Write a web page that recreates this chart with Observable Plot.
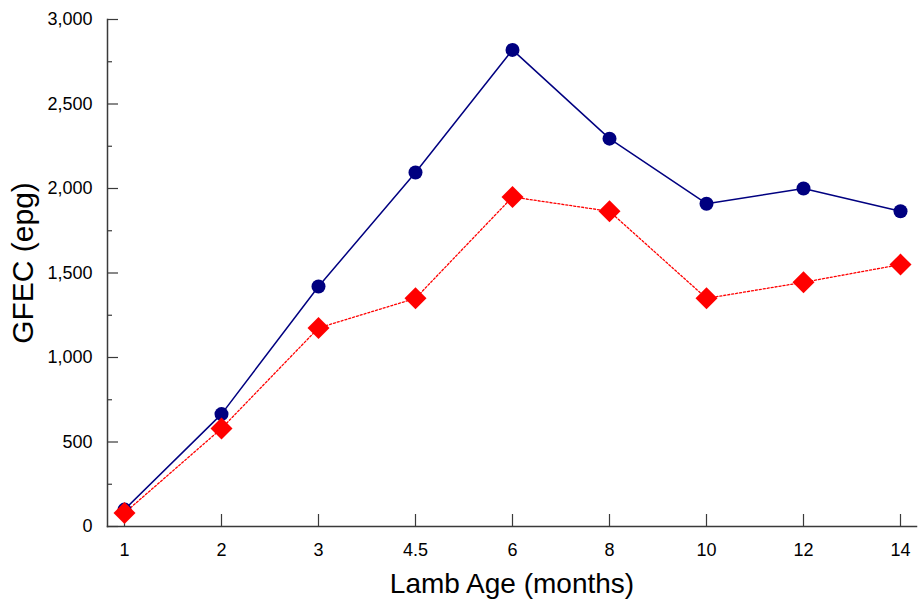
<!DOCTYPE html>
<html>
<head>
<meta charset="utf-8">
<script src="https://cdn.jsdelivr.net/npm/d3@7"></script>
<script src="https://cdn.jsdelivr.net/npm/@observablehq/plot@0.6"></script>
<style>
  html, body { margin: 0; padding: 0; background: #fff; }
  svg { font-family: "Liberation Sans", Arial, sans-serif; }
</style>
</head>
<body>
<div id="chart"></div>
<script>
const ages = ["1", "2", "3", "4.5", "6", "8", "10", "12", "14"];
const seriesA = [100, 665, 1420, 2095, 2820, 2295, 1910, 2000, 1865];
const seriesB = [80, 580, 1175, 1350, 1950, 1865, 1350, 1445, 1550];
const yTicks = [0, 500, 1000, 1500, 2000, 2500, 3000];
const yMinorTicks = [250, 750, 1250, 1750, 2250, 2750];

const dataA = ages.map((a, i) => ({age: a, v: seriesA[i]}));
const dataB = ages.map((a, i) => ({age: a, v: seriesB[i]}));

const axisColor = "#3a3a3a";

const chart = Plot.plot({
  width: 919,
  height: 601,
  marginLeft: 107,
  marginRight: 3,
  marginTop: 19,
  marginBottom: 75,
  style: {fontFamily: "Liberation Sans, Arial, sans-serif", fontSize: "18px", color: "#000", background: "#fff"},
  x: {type: "point", domain: ages, padding: 0.165},
  y: {domain: [0, 3000]},
  marks: [
    Plot.frame({anchor: "left", stroke: axisColor, strokeWidth: 1.5}),
    Plot.frame({anchor: "bottom", stroke: axisColor, strokeWidth: 1.5}),
    Plot.axisY({ticks: yTicks, tickSize: -11, text: null, label: null, stroke: axisColor, strokeWidth: 1.2}),
    Plot.axisY({ticks: yMinorTicks, tickSize: -5, text: null, label: null, stroke: axisColor, strokeWidth: 1.2}),
    Plot.axisY({ticks: yTicks, tickSize: 0, tickPadding: 15, tickFormat: d3.format(","), label: null, fontSize: 18, fill: "#000"}),
    Plot.axisX({tickSize: -12, text: null, label: null, stroke: axisColor, strokeWidth: 1.2}),
    Plot.axisX({tickSize: 0, tickPadding: 17, label: null, fontSize: 18, fill: "#000"}),
    Plot.text(["GFEC (epg)"], {frameAnchor: "left", rotate: -90, dx: -84, dy: -10, fontSize: 30, fill: "#000", textAnchor: "middle", lineAnchor: "middle"}),
    Plot.text(["Lamb Age (months)"], {frameAnchor: "bottom", dy: 58, fontSize: 28, fill: "#000", textAnchor: "middle", lineAnchor: "middle"}),
    Plot.line(dataA, {x: "age", y: "v", stroke: "#000080", strokeWidth: 1.5}),
    Plot.line(dataB, {x: "age", y: "v", stroke: "#ff0000", strokeWidth: 1.3, strokeDasharray: "2,2"}),
    Plot.dot(dataA, {x: "age", y: "v", r: 7, fill: "#000080", stroke: "none"}),
    Plot.dot(dataB, {x: "age", y: "v", r: 9.9, symbol: "diamond2", fill: "#ff0000", stroke: "none"})
  ]
});
document.getElementById("chart").appendChild(chart);
</script>
</body>
</html>
